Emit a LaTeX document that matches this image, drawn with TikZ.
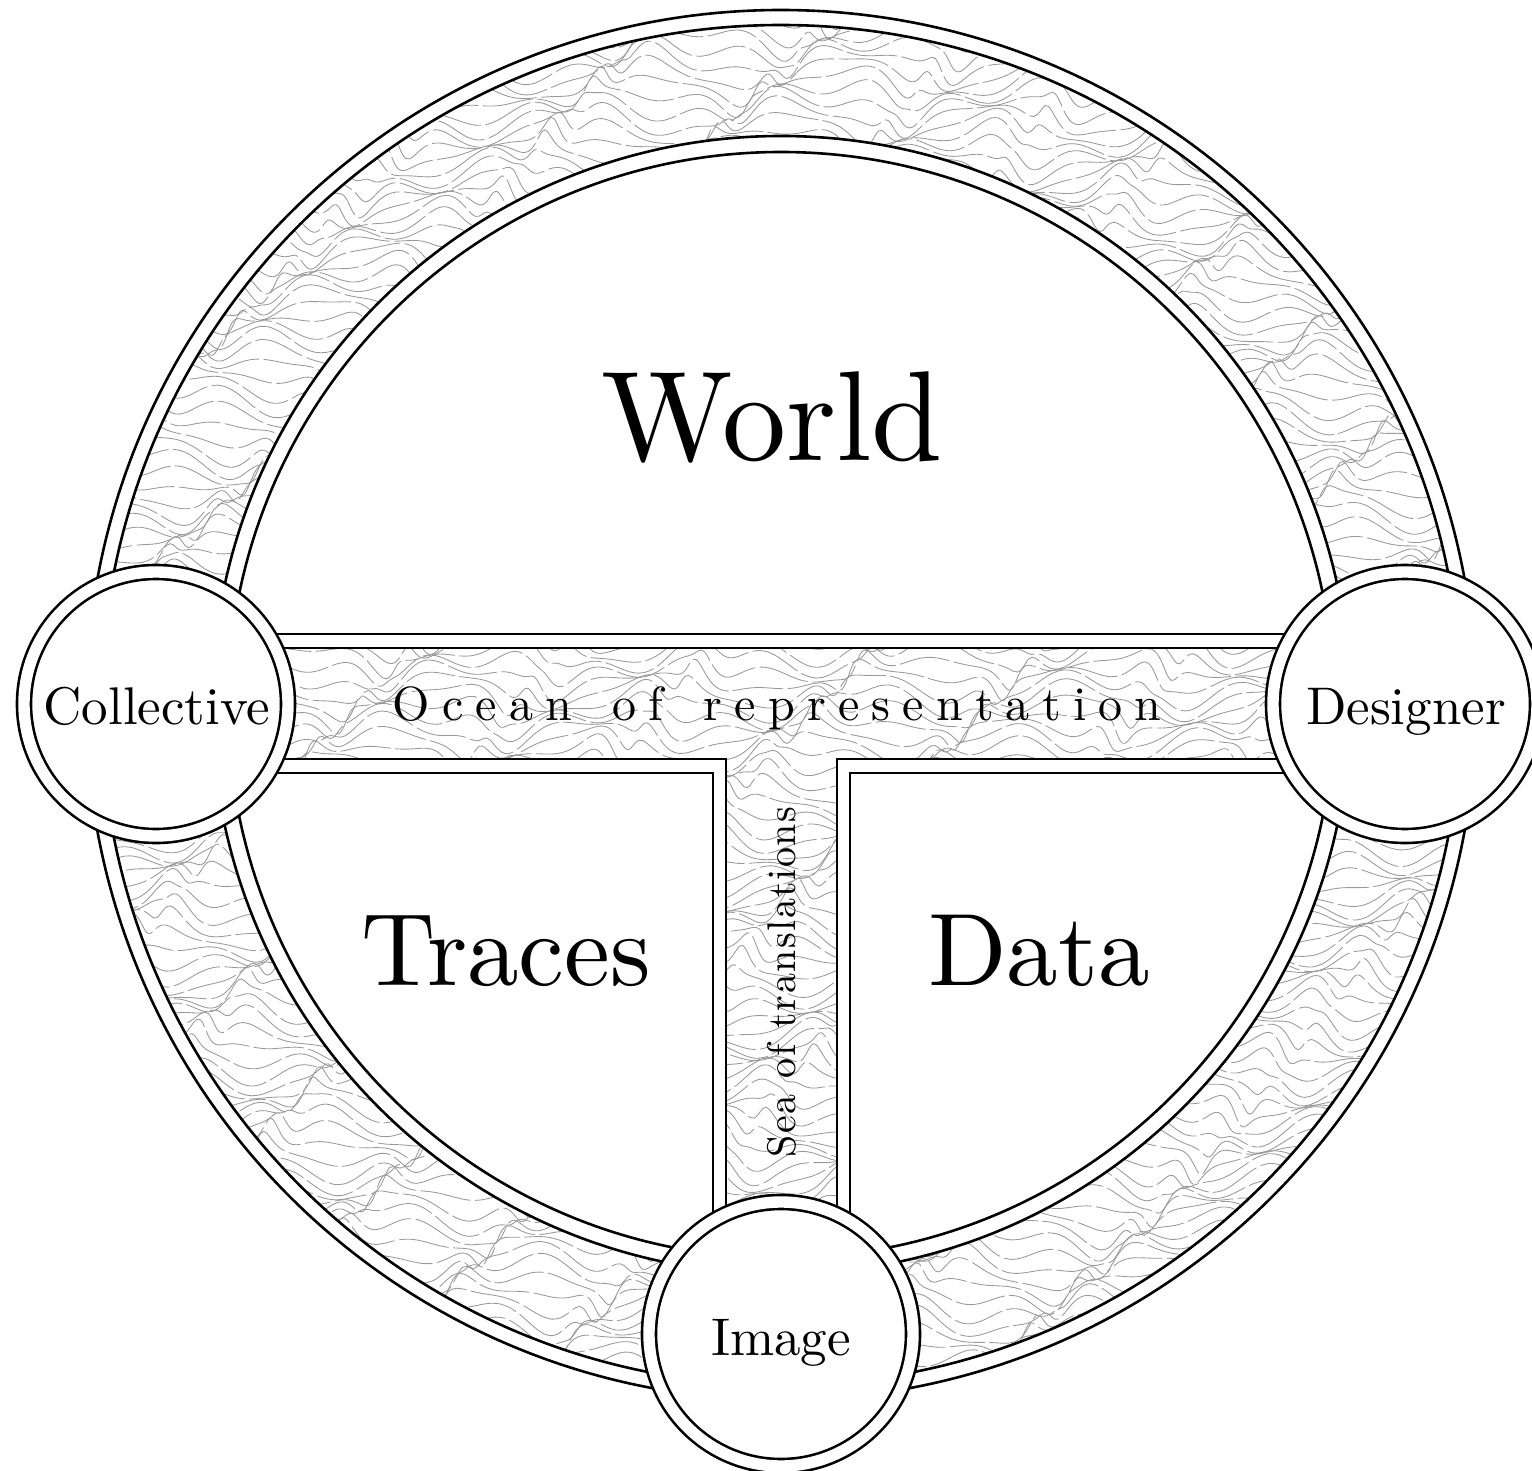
\documentclass[tikz,border=0pt]{standalone}
\usepackage{fontspec}
\newfontfamily\lmten{lmroman10-regular}[Extension=.otf]
\newlength\lsamt
\def\spaced#1{\spacedloop#1\relax\unkern}
\def\spacedloop#1{\ifx#1\relax\else#1\kern\lsamt\expandafter\spacedloop\fi}
\newcommand\texrow[2]{%
  \pgfmathtruncatemacro\ns{max(3,(#2-#1)/6)}%
  \draw[texture, dash phase=\ph pt] plot[smooth, tension=0.5, variable=\t, domain=#1:#2, samples=\ns]
    ({\t+14*sin(2.3*\t+23*\k)}, {\yo+12*sin(1.7*\t+25*\k+40)+7*sin(4.1*\t-35*\k)+4*sin(6.7*\t+60*\k)});}
\tikzset{
  heavy/.style={line width=2.6pt, draw=black},
  texture/.style={draw=black!40, line width=0.85pt, line join=round, line cap=round, dash pattern=on 50pt off 5pt},
  hub/.style={circle, draw=black, line width=2.6pt, double=white, double distance=11.4pt, fill=white, minimum size=264pt, inner sep=0pt},
  hubtext/.style={anchor=base, inner sep=0pt, font={\lmten\fontsize{53}{53}\selectfont}},
  bigtext/.style={anchor=base, inner sep=0pt, font={\lmten\fontsize{128}{128}\selectfont}},
  midtext/.style={anchor=base, inner sep=0pt, font={\lmten\fontsize{103}{103}\selectfont}},
}
\begin{document}
\begin{tikzpicture}[x=1pt,y=-1pt]
\useasboundingbox (0,0) rectangle (1532,1471);
\fill[white] (0,0) rectangle (1532,1471);
\coordinate (C) at (781,705);
% outer ring
\path[heavy, fill=white] (C) circle[radius=695pt];
\begin{scope}
  \clip (C) circle[radius=680pt];
  \foreach \k in {0,...,133}{
    \pgfmathsetmacro\yo{-25+11*\k}
    \pgfmathsetmacro\ph{mod(\k*37,55)}
    \pgfmathsetmacro\a{max(0,abs(\yo-705)-30)/100}
    \pgfmathsetmacro\W{100*sqrt(max(0,49-\a*\a))+25}
    \pgfmathsetmacro\b{(abs(\yo-705)+30)/100}
    \pgfmathsetmacro\w{100*sqrt(max(0,32.3761-\b*\b))-25}
    \pgfmathsetmacro\xa{781-\W}
    \pgfmathsetmacro\xb{781+\W}
    \pgfmathsetmacro\xc{781-\w}
    \pgfmathsetmacro\xd{781+\w}
    \pgfmathtruncatemacro\band{and(\yo>612,\yo<795)}
    \pgfmathtruncatemacro\hasin{\w>0}
    \pgfmathtruncatemacro\vb{and(\yo>735,\yo<1250)}
    \ifnum\band=1
      \texrow{\xa}{\xb}
    \else
      \ifnum\hasin=1
        \texrow{\xa}{\xc}
        \texrow{\xd}{\xb}
        \ifnum\vb=1
          \texrow{690}{875}
        \fi
      \else
        \texrow{\xa}{\xb}
      \fi
    \fi
  }
\end{scope}
\draw[heavy] (C) circle[radius=680pt];
% white gaps around the three fields
\begin{scope}
  \clip (C) circle[radius=569pt];
  \path[heavy, fill=white] (-10,-10) rectangle (1542,648);
  \path[heavy, fill=white] (-10,759) rectangle (726,1490);
  \path[heavy, fill=white] (837,759) rectangle (1542,1490);
\end{scope}
\draw[heavy] (C) circle[radius=569pt];
% the three fields
\begin{scope}
  \clip (C) circle[radius=553pt];
  \path[heavy, fill=white] (-10,-10) rectangle (1542,634);
  \path[heavy, fill=white] (-10,773) rectangle (713,1490);
  \path[heavy, fill=white] (850,773) rectangle (1542,1490);
\end{scope}
\draw[heavy] (C) circle[radius=553pt];
% labels of fields
\node[bigtext] (world) at (772,460) {World};
\node[midtext] (traces) at (506,985) {Traces};
\node[midtext] (data) at (1039,985) {Data};
% sea labels
\setlength\lsamt{12.2pt}
\node[anchor=base, inner sep=0pt, font={\lmten\fontsize{48}{48}\selectfont}] (ocean) at (777,720)
  {\spaced{Ocean}\kern\lsamt\ \kern\lsamt\spaced{of}\kern\lsamt\ \kern\lsamt\spaced{representation}};
\node[anchor=base, inner sep=0pt, rotate=90, font={\lmten\fontsize{40}{40}\selectfont}] (sea) at (795,982)
  {\setlength\lsamt{1.5pt}\spaced{Sea}\kern\lsamt\ \kern\lsamt\spaced{of}\kern\lsamt\ \kern\lsamt\spaced{translations}};
% hubs
\node[hub] (collective) at (156,704) {};
\node[hub] (designer) at (1405,704) {};
\node[hub] (image) at (781,1334) {};
\node[hubtext] (collectivetext) at (157,724) {Collective};
\node[hubtext] (designertext) at (1406,724) {Designer};
\node[hubtext] (imagetext) at (781,1355) {Image};
\end{tikzpicture}
\end{document}
